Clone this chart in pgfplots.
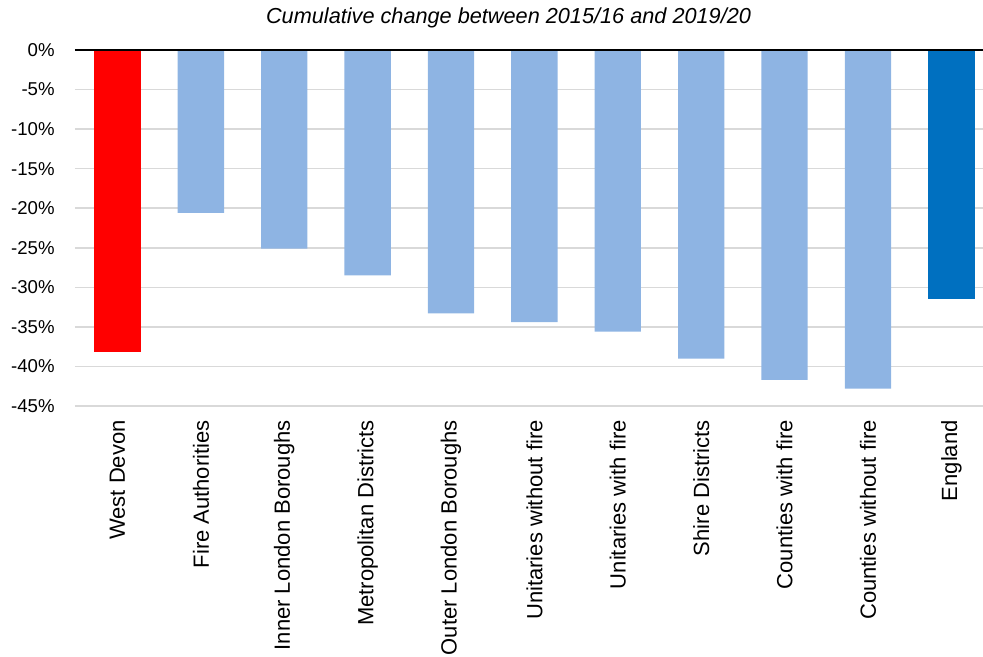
\documentclass[border=0pt]{standalone}
\usepackage{pgfplots}
\pgfplotsset{compat=1.18}
\usepackage{fontspec}
\setmainfont{Liberation Sans}
\definecolor{lightbar}{RGB}{142,180,227}
\definecolor{engbar}{RGB}{0,112,192}
\definecolor{gridc}{RGB}{217,217,217}
\begin{document}
\begin{tikzpicture}
\begin{axis}[
  scale only axis, width=454pt, height=178pt,
  xmin=-0.51, xmax=10.38, ymin=-45, ymax=0,
  axis line style={draw=none},
  ytick={-45,-40,-35,-30,-25,-20,-15,-10,-5,0},
  yticklabels={-45\%,-40\%,-35\%,-30\%,-25\%,-20\%,-15\%,-10\%,-5\%,0\%},
  ymajorgrids, grid style={gridc, line width=0.8pt},
  major tick length=0pt,
  xtick={0,1,2,3,4,5,6,7,8,9,10},
  xticklabels={West Devon,Fire Authorities,Inner London Boroughs,Metropolitan Districts,Outer London Boroughs,Unitaries without fire,Unitaries with fire,Shire Districts,Counties with fire,Counties without fire,England},
  xticklabel style={rotate=90, anchor=east, inner sep=0pt, font=\fontsize{11}{13}\selectfont},
  yticklabel style={anchor=east, inner sep=0pt, font=\fontsize{9.3}{11}\selectfont},
  xticklabel shift=7pt, yticklabel shift=10pt,
  ybar, bar width=0.556, bar shift=0pt,
  clip=false,
]
\addplot[fill=red, draw=none] coordinates {(0,-38.2)};
\addplot[fill=lightbar, draw=none] coordinates {(1,-20.6) (2,-25.1) (3,-28.5) (4,-33.3) (5,-34.4) (6,-35.6) (7,-39.0) (8,-41.7) (9,-42.8)};
\addplot[fill=engbar, draw=none] coordinates {(10,-31.5)};
\draw[black, line width=0.8pt] (rel axis cs:0,1) -- (rel axis cs:1,1);
\node[font=\itshape\fontsize{10.85}{13}\selectfont] at (rel axis cs:0.4775,1.09) {Cumulative change between 2015/16 and 2019/20};
\coordinate (bl) at (rel axis cs:-0.0826,-0.705);
\coordinate (tr) at (rel axis cs:1,1.1404);
\end{axis}
\pgfresetboundingbox
\path[use as bounding box] (bl) rectangle (tr);
\end{tikzpicture}
\end{document}
